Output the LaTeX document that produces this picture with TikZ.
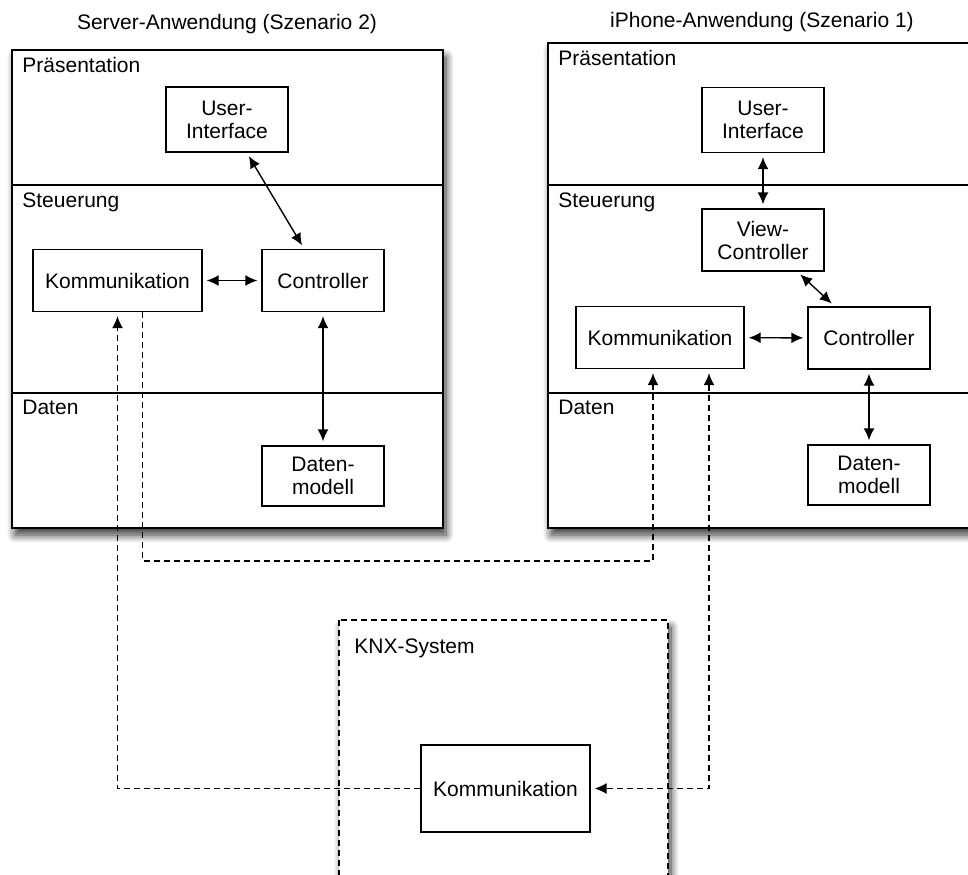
\documentclass[tikz,border=0pt]{standalone}
\usepackage{fontspec}
\setmainfont{Liberation Sans}
\usetikzlibrary{arrows.meta,shadows.blur}
\tikzset{
    tipk/.tip={Latex[length=6pt,width=5.5pt,fill=black]},
    box/.style={draw, line width=0.7pt, fill=white, align=center, minimum width=61pt, minimum height=31pt, inner sep=2pt},
    layer/.style={draw, line width=0.9pt, fill=white, blur shadow={shadow xshift=1.5pt, shadow yshift=-3.5pt, shadow opacity=80, shadow blur steps=10, shadow blur radius=4pt}},
    link/.style={tipk-tipk, line width=0.7pt, fill opacity=1, shorten <=2pt, shorten >=2pt},
    wire/.style={dash pattern=on 3pt off 2pt, line width=0.6pt, fill opacity=1}
}
\begin{document}
\begin{tikzpicture}[x=0.5pt, y=-0.5pt, font=\fontsize{10.5}{11.5}\selectfont]
\useasboundingbox (0,0) rectangle (968,874);
\clip (0,0) rectangle (968,874);
% layers
    \draw[layer] (12,50) rectangle (443,528);
    \draw[layer, overlay] (548,43) rectangle (995,528);
    \draw[layer, overlay, dash pattern=on 3pt off 2pt] (339,620) rectangle (668,905);
    \foreach \a/\b in {12/443,548/995}{
        \draw[line width=0.9pt, overlay] (\a,185) -- (\b,185);
        \draw[line width=0.9pt, overlay] (\a,393) -- (\b,393);
    }
    \foreach \x/\t/\s in {22/72/s,558/65/i}{
        \node[anchor=base west, inner sep=0pt] (pres\s) at (\x,\t) {Präsentation};
        \node[anchor=base west, inner sep=0pt] (steu\s) at (\x,207) {Steuerung};
        \node[anchor=base west, inner sep=0pt] (dat\s) at (\x,414) {Daten};
    }
    \node[anchor=base] (stitle) at (227,29) {Server-Anwendung (Szenario 2)};
    \node[anchor=base] (ititle) at (762,27) {iPhone-Anwendung (Szenario 1)};
    \node[anchor=base west, inner sep=0pt] (knx) at (354,653) {KNX-System};
% components
    \node[box, minimum height=32.5pt] (sui) at (227,119.5) {User-\\Interface};
    \node[box] (sctl) at (323,280.5) {Controller};
    \node[box, minimum width=84.5pt] (skom) at (117.5,280.5) {Kommunikation};
    \node[box, minimum height=30pt] (sdat) at (323,476) {Daten-\\modell};
    \node[box, minimum height=32.5pt] (iui) at (763,120) {User-\\Interface};
    \node[box] (ivc) at (763,240) {View-\\Controller};
    \node[box] (ictl) at (869,338) {Controller};
    \node[box, minimum width=84pt] (ikom) at (660,337.5) {Kommunikation};
    \node[box, minimum height=30pt] (idat) at (869,475) {Daten-\\modell};
    \node[box, minimum width=84.5pt, minimum height=43.5pt] (kkom) at (505.5,788.5) {Kommunikation};
% calls
    \foreach \a/\b in {sui/sctl,skom/sctl,sctl/sdat,iui/ivc,ivc/ictl,ikom/ictl,ictl/idat}{
        \draw[link] (\a) -- (\b);
    }
% network
    \coordinate (bus) at (400,561);
    \draw[wire, -tipk, shorten >=2pt] (kkom.west) -| (skom.south);
    \draw[wire, -tipk, shorten >=2pt] ([xshift=12.5pt]skom.south) |- (bus) -| ([xshift=-3.5pt]ikom.south);
    \draw[wire, tipk-tipk, shorten <=2pt, shorten >=2pt] ([xshift=24.5pt]ikom.south) |- (kkom.east);
\end{tikzpicture}
\end{document}
